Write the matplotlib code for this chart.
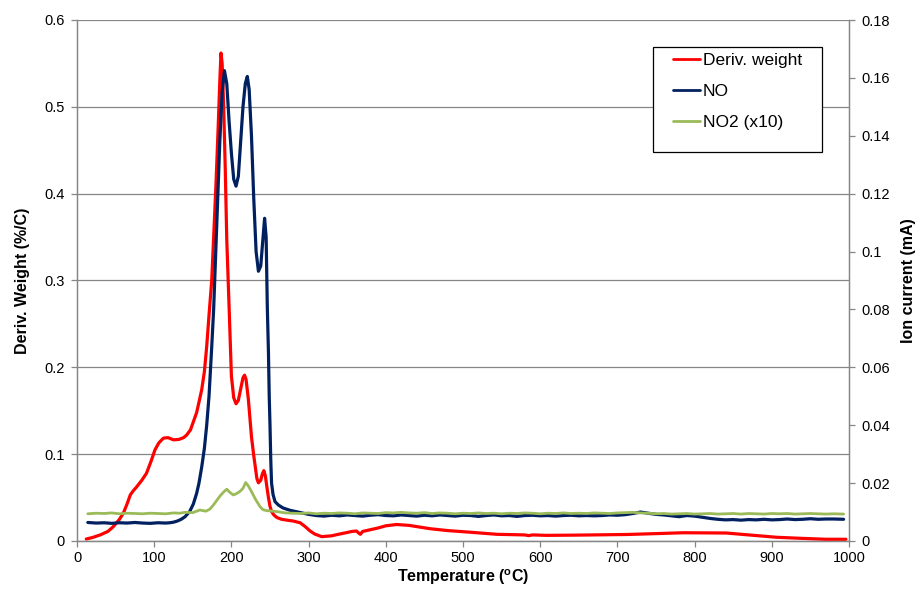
import matplotlib
matplotlib.use("Agg")
import matplotlib.pyplot as plt
from matplotlib.ticker import FuncFormatter, MultipleLocator
from matplotlib.patches import Rectangle

plt.rcParams['font.family'] = ['Liberation Sans', 'DejaVu Sans']
plt.rcParams['mathtext.fontset'] = 'custom'
plt.rcParams['mathtext.rm'] = 'Liberation Sans'
plt.rcParams['mathtext.bf'] = 'Liberation Sans:bold'

# ---------------- data ----------------
red_T = [12, 20, 30, 40, 47, 55, 60, 65, 69, 73, 77, 84, 90, 96, 101, 106, 112, 118, 125, 132,
         138, 142, 147, 151, 155, 158, 161.5, 165, 168, 171, 174.5, 177, 180, 183, 185, 186.5,
         188, 190, 192, 194, 197, 200, 203, 206, 209, 212, 215, 217, 219, 222, 226, 229, 231,
         233, 235, 238, 240, 242, 244, 246, 248, 250, 252, 255, 259, 265, 272, 280, 289, 295,
         302, 308, 317, 330, 340, 349, 356, 362, 365, 367, 370, 375, 390, 400, 414, 430, 457,
         480, 505, 544, 580, 585, 590, 608, 650, 712, 750, 785, 841, 870, 906, 940, 970, 996]
red_v = [0.0023, 0.004, 0.007, 0.011, 0.0165, 0.025, 0.032, 0.043, 0.053, 0.058, 0.062, 0.070,
         0.078, 0.092, 0.105, 0.113, 0.1185, 0.119, 0.1165, 0.117, 0.119, 0.122, 0.128, 0.138,
         0.148, 0.160, 0.174, 0.195, 0.224, 0.260, 0.300, 0.350, 0.410, 0.480, 0.530, 0.562,
         0.550, 0.500, 0.430, 0.347, 0.270, 0.190, 0.165, 0.158, 0.162, 0.175, 0.188, 0.191,
         0.186, 0.163, 0.120, 0.098, 0.085, 0.072, 0.067, 0.070, 0.077, 0.081, 0.075, 0.062,
         0.050, 0.040, 0.034, 0.030, 0.027, 0.025, 0.024, 0.023, 0.021, 0.017, 0.0115, 0.008,
         0.005, 0.006, 0.008, 0.0096, 0.011, 0.0115, 0.009, 0.0077, 0.011, 0.012, 0.015, 0.0175,
         0.019, 0.018, 0.0142, 0.012, 0.0104, 0.0077, 0.0070, 0.0062, 0.0070, 0.0065, 0.0068,
         0.0075, 0.0085, 0.0095, 0.0092, 0.0070, 0.0043, 0.0030, 0.0020, 0.0020]

no_T = [14, 25, 35, 45, 55, 65, 75, 85, 95, 105, 115, 120, 125, 130, 135, 140, 146, 150.7, 155,
        158, 161.5, 165, 168, 171, 174.5, 177, 180, 183, 185, 188, 191, 194, 197, 200, 203, 206,
        209, 212, 215, 218, 220.6, 223, 226, 229, 232, 235, 238, 241, 243, 245, 246.5, 248,
        249, 250, 251, 252, 254, 256.5, 261, 267, 276, 284.6,
        290, 300, 310, 320, 330, 340, 350, 360, 370, 380, 390, 400, 410, 420, 430, 440, 450,
        460, 470, 480, 490, 500, 510, 520, 530, 540, 550, 560, 570, 580, 590, 600, 610, 620,
        630, 640, 650, 660, 670, 680, 690, 700, 710, 720, 730, 740, 750, 760, 770, 780, 790,
        800, 810, 820, 830, 840, 850, 860, 870, 880, 890, 900, 910, 920, 930, 940, 950, 960,
        970, 980, 993]
no_v = [0.0064, 0.0062, 0.0063, 0.0061, 0.0063, 0.0062, 0.0064, 0.0062, 0.0061, 0.0063,
        0.0062, 0.0063, 0.0065, 0.0069, 0.0075, 0.0084, 0.0102, 0.0128, 0.0165, 0.0200,
        0.0255, 0.0320, 0.0400, 0.0500, 0.0670, 0.0800, 0.1020, 0.1250, 0.1380, 0.1550,
        0.1625, 0.1580, 0.1450, 0.1340, 0.1250, 0.1226, 0.1260, 0.1380, 0.1500, 0.1580,
        0.1605, 0.1560, 0.1400, 0.1180, 0.1000, 0.0932, 0.0950, 0.1050, 0.1115, 0.1050,
        0.0810, 0.0650, 0.0500, 0.0400, 0.0280, 0.0200, 0.0160, 0.0136, 0.0124, 0.0114,
        0.0106, 0.0101,
        0.0098, 0.0092, 0.0088, 0.0086, 0.0089, 0.0087, 0.0090, 0.0088, 0.0086, 0.0089,
        0.0091, 0.0088, 0.0087, 0.0090, 0.0088, 0.0086, 0.0089, 0.0087, 0.0090, 0.0088,
        0.0086, 0.0089, 0.0088, 0.0085, 0.0088, 0.0090, 0.0087, 0.0088, 0.0085, 0.0088,
        0.0089, 0.0087, 0.0088, 0.0086, 0.0088, 0.0089, 0.0087, 0.0088, 0.0087, 0.0088,
        0.0090, 0.0089, 0.0091, 0.0095, 0.0100, 0.0096, 0.0092, 0.0090, 0.0087, 0.0084,
        0.0088, 0.0086, 0.0082, 0.0078, 0.0075, 0.0073, 0.0074, 0.0072, 0.0074, 0.0073,
        0.0075, 0.0073, 0.0074, 0.0076, 0.0074, 0.0075, 0.0077, 0.0075, 0.0076, 0.0076,
        0.0075]

no2_T = [14, 25, 35, 45, 55, 65, 75, 85, 95, 105, 115, 125, 133, 140, 150, 159, 167, 172, 176,
         181, 186, 191, 194, 198, 202.5, 206, 211, 215, 218.5, 222, 226, 231, 237, 241, 245.7,
         258, 270, 280,
         290, 300, 310, 320, 330, 340, 350, 360, 370, 380, 390, 400, 410, 420, 430, 440, 450,
         460, 470, 480, 490, 500, 510, 520, 530, 540, 550, 560, 570, 580, 590, 600, 610, 620,
         630, 640, 650, 660, 670, 680, 690, 700, 710, 720, 730, 740, 750, 760, 770, 780, 790,
         800, 810, 820, 830, 840, 850, 860, 870, 880, 890, 900, 910, 920, 930, 940, 950, 960,
         970, 980, 993]
no2_v = [0.0094, 0.0096, 0.0095, 0.0097, 0.0094, 0.0096, 0.0095, 0.0094, 0.0096, 0.0095,
         0.0094, 0.0097, 0.0096, 0.0099, 0.0098, 0.0107, 0.0103, 0.0110, 0.0122, 0.0140,
         0.0158, 0.0172, 0.0179, 0.0168, 0.0159, 0.0163, 0.0171, 0.0182, 0.0202, 0.0190,
         0.0171, 0.0145, 0.0119, 0.0108, 0.0105, 0.0102, 0.0097, 0.0096,
         0.0095, 0.0097, 0.0094, 0.0096, 0.0095, 0.0097, 0.0096, 0.0094, 0.0097, 0.0096,
         0.0095, 0.0098, 0.0097, 0.0099, 0.0097, 0.0096, 0.0098, 0.0095, 0.0097, 0.0096,
         0.0094, 0.0096, 0.0095, 0.0097, 0.0095, 0.0096, 0.0094, 0.0096, 0.0095, 0.0097,
         0.0096, 0.0094, 0.0096, 0.0095, 0.0097, 0.0095, 0.0096, 0.0095, 0.0097, 0.0096,
         0.0095, 0.0097, 0.0098, 0.0099, 0.0097, 0.0096, 0.0094, 0.0095, 0.0093, 0.0094,
         0.0095, 0.0093, 0.0094, 0.0095, 0.0093, 0.0094, 0.0095, 0.0093, 0.0095, 0.0094,
         0.0093, 0.0095, 0.0094, 0.0095, 0.0093, 0.0094, 0.0095, 0.0094, 0.0093, 0.0094,
         0.0093]

labels = ["Deriv. weight", "NO", "NO2 (x10)"]
colors = ["#FF0000", "#002060", "#9BBB59"]

# ---------------- figure ----------------
fig = plt.figure(figsize=(9.24, 5.90), dpi=100)
ax = fig.add_axes([77/924, 1-541/590, (849-77)/924, (541-20)/590])
ax2 = ax.twinx()

grey = "#868686"
l1, = ax.plot(red_T, red_v, color=colors[0], lw=2.3, solid_capstyle='round', zorder=3)
l2, = ax2.plot(no_T, no_v, color=colors[1], lw=2.3, solid_capstyle='round', zorder=3)
l3, = ax2.plot(no2_T, no2_v, color=colors[2], lw=2.0, solid_capstyle='round', zorder=4)

ax.set_xlim(0, 1000)
ax.set_ylim(0, 0.6)
ax2.set_ylim(0, 0.18)
ax.xaxis.set_major_locator(MultipleLocator(100))
ax.yaxis.set_major_locator(MultipleLocator(0.1))
ax2.yaxis.set_major_locator(MultipleLocator(0.02))
fmt = FuncFormatter(lambda v, p: "%g" % round(v, 4))
ax.yaxis.set_major_formatter(fmt)
ax2.yaxis.set_major_formatter(fmt)

ax.grid(axis='y', color=grey, lw=0.9)
ax.set_axisbelow(True)
for a in (ax, ax2):
    a.spines['top'].set_visible(False)
    for s in ('left', 'right', 'bottom'):
        a.spines[s].set_color(grey)
        a.spines[s].set_linewidth(0.9)
    a.tick_params(axis='both', colors=grey, labelcolor='black', length=4, width=0.9,
                  labelsize=10.5, direction='out')
ax.tick_params(axis='x', pad=3)
ax.tick_params(axis='y', pad=5)
ax2.tick_params(axis='y', pad=5)

ax.set_xlabel(r"Temperature ($\mathbf{^{o}}$C)", fontsize=11.5, fontweight='bold', labelpad=2)
ax.set_ylabel("Deriv. Weight (%/C)", fontsize=11.5, fontweight='bold', labelpad=10)
ax2.set_ylabel("Ion current (mA)", fontsize=11.5, fontweight='bold', labelpad=8)

# legend box
ax2.add_patch(Rectangle(((653-77)/772, (541-152)/521), (822-653)/772, (152-47)/521,
                        transform=ax2.transAxes, facecolor='white', edgecolor='black',
                        lw=0.9, zorder=5))
leg = ax2.legend([l1, l2, l3], labels, loc='upper left',
                 bbox_to_anchor=((673-77)/772, (541-53)/521), frameon=False,
                 fontsize=12.5, handlelength=1.55, handletextpad=0.15, labelspacing=0.9,
                 borderpad=0, borderaxespad=0)
leg.set_zorder(6)
for h in leg.get_lines():
    h.set_linewidth(2.0)

fig.savefig("out.png", dpi=100)
